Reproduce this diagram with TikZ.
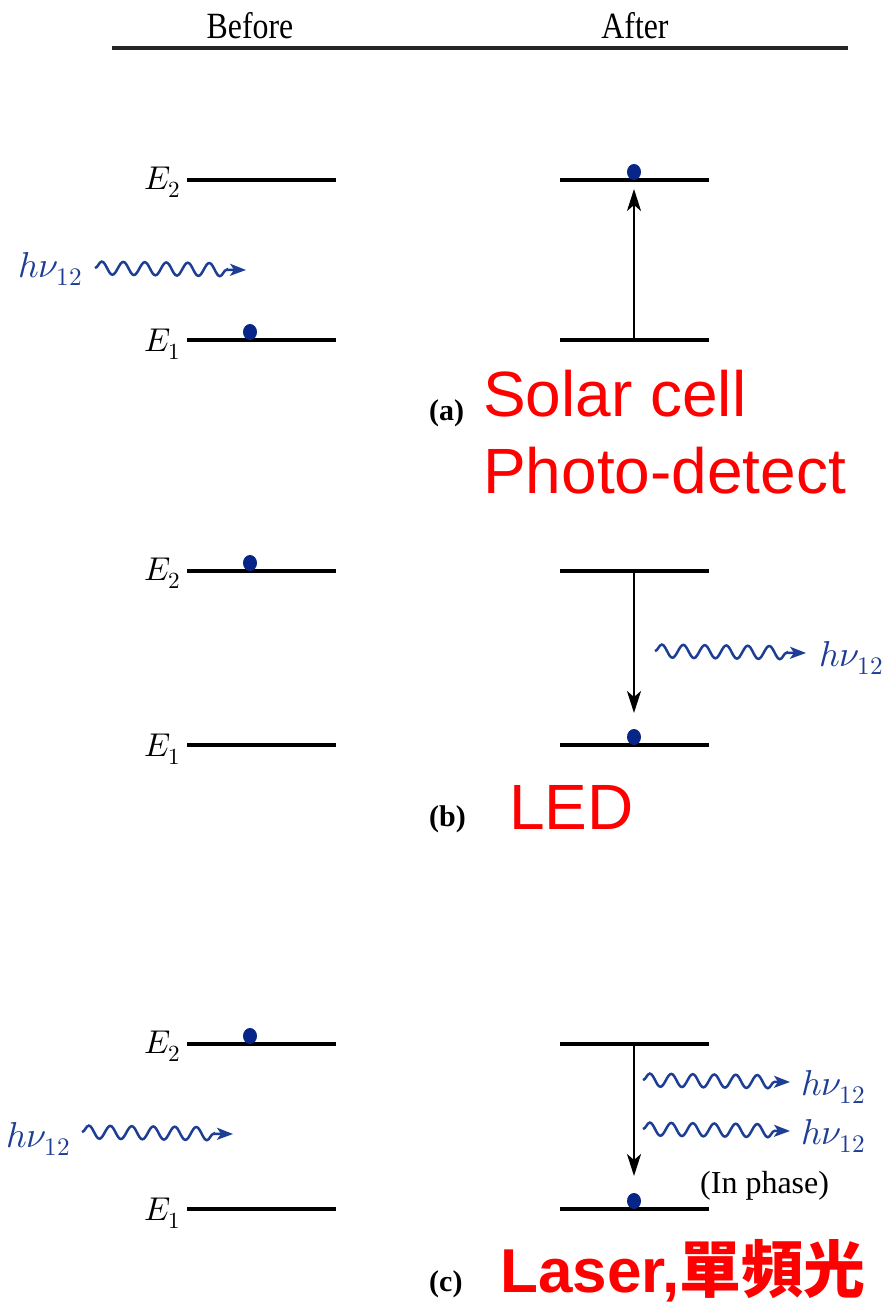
\documentclass[tikz,border=0pt]{standalone}
\usepackage{fontspec}
\usepackage{unicode-math}
\setmainfont{Liberation Serif}
\newfontfamily\redsans{Liberation Sans}
\newfontfamily\cjk{Noto Sans CJK TC}
\usetikzlibrary{arrows.meta,decorations.pathmorphing,shapes.geometric}
\definecolor{dotblue}{RGB}{8,38,135}
\definecolor{phblue}{RGB}{30,62,150}
\definecolor{redtxt}{RGB}{255,0,0}
\tikzset{
  level/.style={line width=3.2pt, black},
  trans/.style={line width=2.4pt, black, -{Stealth[length=22pt,width=14pt,inset=6pt]}},
  photon/.style={draw=phblue, line width=2.5pt, decorate,
    decoration={snake, amplitude=6.5pt, segment length=21.5pt, post length=15pt},
    -{Stealth[length=16pt,width=12pt,inset=4pt]}},
  dot/.style={ellipse, fill=dotblue, minimum width=14pt, minimum height=16pt, inner sep=0pt},
  elab/.style={anchor=base east, inner sep=0pt, font=\fontsize{33}{36}\selectfont},
  hlab/.style={anchor=base west, inner sep=0pt, text=phblue, font=\fontsize{36}{40}\selectfont},
  head/.style={anchor=base, inner sep=0pt, font=\fontsize{37}{40}\selectfont, xscale=0.86},
  plab/.style={anchor=base west, inner sep=0pt, font=\fontsize{30}{33}\selectfont\bfseries},
  redlab/.style={anchor=base west, inner sep=0pt, text=redtxt, font=\fontsize{64}{72}\redsans},
}
\begin{document}
\begin{tikzpicture}[x=1pt,y=-1pt]
\useasboundingbox (0,0) rectangle (887,1304);
% header
\node[head] (before) at (250,38) {Before};
\node[head] (after) at (635,38) {After};
\coordinate (hl) at (112,48); \coordinate (hr) at (848,48);
\draw[line width=3.2pt, black!85] (hl) -- (hr);

% ---------- panel (a)
\coordinate (a2l) at (187,180); \coordinate (a2r) at (336,180);
\coordinate (a1l) at (187,340); \coordinate (a1r) at (336,340);
\coordinate (A2l) at (560,180); \coordinate (A2r) at (709,180);
\coordinate (A1l) at (560,340); \coordinate (A1r) at (709,340);
\draw[level] (a2l) -- (a2r); \draw[level] (a1l) -- (a1r);
\draw[level] (A2l) -- (A2r); \draw[level] (A1l) -- (A1r);
\node[elab] (aE2) at (181,189) {$E_2$};
\node[elab] (aE1) at (181,351) {$E_1$};
\node[dot] (adot1) at (250,332) {};
\node[dot] (adot2) at (634,172) {};
\coordinate (aup0) at (634,340); \coordinate (aup1) at (634,189);
\draw[trans] (aup0) -- (aup1);
\node[hlab] (ah) at (18,277) {$h\nu_{12}$};
\coordinate (aph0) at (95,268); \coordinate (aph1) at (246,270);
\draw[photon] (aph0) -- (aph1);
\node[plab] (alab) at (429,420) {(a)};
\node[redlab] (solar) at (483,416) {Solar cell};
\node[redlab] (photo) at (483,493) {Photo-detect};

% ---------- panel (b)
\coordinate (b2l) at (187,571); \coordinate (b2r) at (336,571);
\coordinate (b1l) at (187,745); \coordinate (b1r) at (336,745);
\coordinate (B2l) at (560,571); \coordinate (B2r) at (709,571);
\coordinate (B1l) at (560,745); \coordinate (B1r) at (709,745);
\draw[level] (b2l) -- (b2r); \draw[level] (b1l) -- (b1r);
\draw[level] (B2l) -- (B2r); \draw[level] (B1l) -- (B1r);
\node[elab] (bE2) at (181,580) {$E_2$};
\node[elab] (bE1) at (181,756) {$E_1$};
\node[dot] (bdot1) at (250,563) {};
\node[dot] (bdot2) at (634,737) {};
\coordinate (bdn0) at (634,571); \coordinate (bdn1) at (634,713);
\draw[trans] (bdn0) -- (bdn1);
\coordinate (bph0) at (655,651); \coordinate (bph1) at (806,653);
\draw[photon] (bph0) -- (bph1);
\node[hlab] (bh) at (819,666) {$h\nu_{12}$};
\node[plab] (blab) at (429,826) {(b)};
\node[redlab] (led) at (509,829) {LED};

% ---------- panel (c)
\coordinate (c2l) at (187,1044); \coordinate (c2r) at (336,1044);
\coordinate (c1l) at (187,1209); \coordinate (c1r) at (336,1209);
\coordinate (C2l) at (560,1044); \coordinate (C2r) at (709,1044);
\coordinate (C1l) at (560,1209); \coordinate (C1r) at (709,1209);
\draw[level] (c2l) -- (c2r); \draw[level] (c1l) -- (c1r);
\draw[level] (C2l) -- (C2r); \draw[level] (C1l) -- (C1r);
\node[elab] (cE2) at (181,1053) {$E_2$};
\node[elab] (cE1) at (181,1220) {$E_1$};
\node[dot] (cdot1) at (250,1036) {};
\node[dot] (cdot2) at (634,1201) {};
\coordinate (cdn0) at (634,1044); \coordinate (cdn1) at (634,1176);
\draw[trans] (cdn0) -- (cdn1);
\node[hlab] (chl) at (6,1147) {$h\nu_{12}$};
\coordinate (cph0) at (82,1132); \coordinate (cph1) at (233,1134);
\draw[photon] (cph0) -- (cph1);
\coordinate (cpa0) at (643,1080); \coordinate (cpa1) at (790,1082);
\draw[photon] (cpa0) -- (cpa1);
\coordinate (cpb0) at (643,1129); \coordinate (cpb1) at (790,1131);
\draw[photon] (cpb0) -- (cpb1);
\node[hlab] (cha) at (801,1095) {$h\nu_{12}$};
\node[hlab] (chb) at (801,1144) {$h\nu_{12}$};
\node[anchor=base west, inner sep=0pt, font=\fontsize{32}{35}\selectfont] (inph) at (700,1193) {(In phase)};
\node[plab] (clab) at (429,1291) {(c)};
\node[redlab, font=\fontsize{62}{70}\redsans\bfseries] (laser) at (500,1292) {Laser,{\cjk\bfseries 單頻光}};
\end{tikzpicture}
\end{document}
